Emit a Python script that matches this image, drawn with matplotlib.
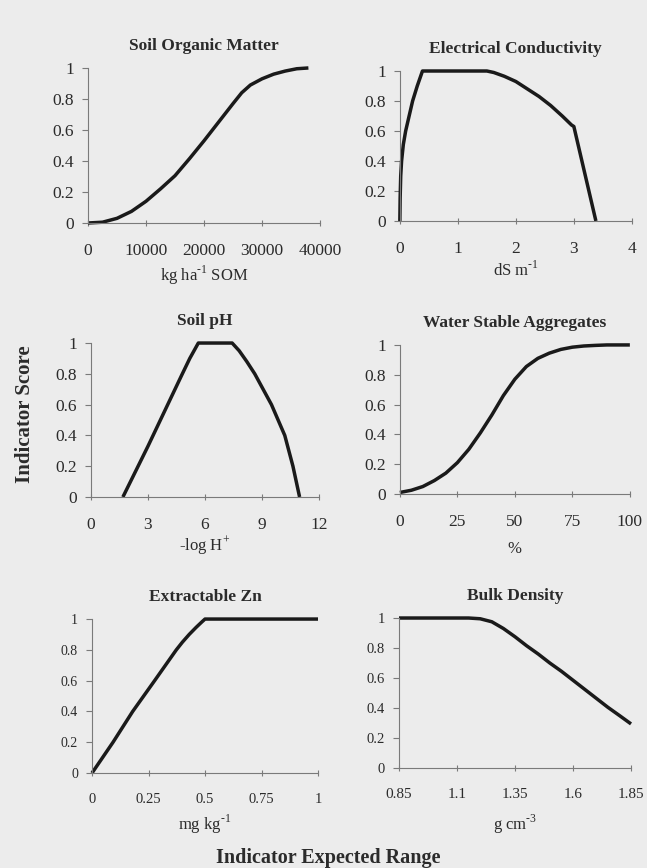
import matplotlib
matplotlib.use("Agg")
from matplotlib import pyplot as plt

plt.rcParams['font.family'] = ['Liberation Serif', 'DejaVu Serif']

# values
som_x = [0, 2500, 5000, 7500, 10000, 12500, 15000, 17500, 20000, 22500,
         25000, 26500, 28000, 30000, 32000, 34000, 36000, 38000]
som_y = [0, 0.005, 0.03, 0.075, 0.14, 0.22, 0.305, 0.415, 0.53, 0.65,
         0.77, 0.84, 0.89, 0.93, 0.96, 0.98, 0.995, 1.0]

ec_x = [0, 0.005, 0.015, 0.03, 0.06, 0.1, 0.16, 0.22, 0.3, 0.39, 1.5, 1.62,
        1.8, 2.0, 2.2, 2.4, 2.6, 2.8, 2.96, 3.0, 3.38]
ec_y = [0, 0.15, 0.3, 0.4, 0.51, 0.6, 0.7, 0.8, 0.9, 1.0, 1.0, 0.99,
        0.965, 0.93, 0.88, 0.83, 0.77, 0.7, 0.64, 0.63, 0]

ph_x = [1.68, 3.0, 4.0, 4.77, 5.2, 5.65, 7.43, 7.8, 8.2, 8.62, 9.06, 9.5,
        9.85, 10.2, 10.63, 10.98]
ph_y = [0, 0.33, 0.59, 0.79, 0.9, 1.0, 1.0, 0.95, 0.88, 0.8, 0.7, 0.6,
        0.5, 0.4, 0.2, 0]

wsa_x = [0, 5, 10, 15, 20, 25, 30, 35, 40, 45, 50, 55, 60, 65, 70, 75,
         80, 85, 90, 100]
wsa_y = [0.01, 0.025, 0.05, 0.09, 0.14, 0.21, 0.30, 0.41, 0.53, 0.66, 0.77, 0.855,
         0.91, 0.945, 0.97, 0.985, 0.993, 0.997, 1.0, 1.0]

zn_x = [0, 0.093, 0.18, 0.277, 0.373, 0.4, 0.43, 0.46, 0.485, 0.5, 1.0]
zn_y = [0, 0.2, 0.4, 0.6, 0.8, 0.85, 0.9, 0.945, 0.98, 1.0, 1.0]

bd_x = [0.85, 1.0, 1.15, 1.2, 1.25, 1.3, 1.35, 1.4, 1.45, 1.5, 1.55, 1.6,
        1.65, 1.7, 1.75, 1.8, 1.85]
bd_y = [1, 1, 1, 0.995, 0.975, 0.93, 0.875, 0.815, 0.76, 0.70, 0.645, 0.585,
        0.525, 0.465, 0.405, 0.35, 0.294]

y_ticks = [0, 0.2, 0.4, 0.6, 0.8, 1]
y_labels = ['0', '0.2', '0.4', '0.6', '0.8', '1']

hy = '\u2010'
panels = [
    # title, xs, ys, xlim, xticks, xticklabels, xlabel, rect, xsize, ysize, labelpad
    ("Soil Organic Matter", som_x, som_y, (0, 40000),
     [0, 10000, 20000, 30000, 40000], ['0', '10000', '20000', '30000', '40000'],
     "kg ha$^{\\mathregular{" + hy + "1}}$ SOM", [0.136, 0.7431, 0.3586, 0.1786], 12.5, 12.5, 3),
    ("Electrical Conductivity", ec_x, ec_y, (0, 4),
     [0, 1, 2, 3, 4], ['0', '1', '2', '3', '4'],
     "dS m$^{\\mathregular{" + hy + "1}}$", [0.618, 0.7454, 0.3586, 0.1728], 12.5, 12.5, 2),
    ("Soil pH", ph_x, ph_y, (0, 12),
     [0, 3, 6, 9, 12], ['0', '3', '6', '9', '12'],
     "-log H$^{\\mathregular{+}}$", [0.1406, 0.4274, 0.3524, 0.1774], 12.5, 12.5, 1),
    ("Water Stable Aggregates", wsa_x, wsa_y, (0, 100),
     [0, 25, 50, 75, 100], ['0', '25', '50', '75', '100'],
     "%", [0.618, 0.4309, 0.3555, 0.1717], 12.5, 12.5, 8),
    ("Extractable Zn", zn_x, zn_y, (0, 1),
     [0, 0.25, 0.5, 0.75, 1], ['0', '0.25', '0.5', '0.75', '1'],
     "mg kg$^{\\mathregular{" + hy + "1}}$", [0.1422, 0.1094, 0.3493, 0.1774], 10.5, 10, 5),
    ("Bulk Density", bd_x, bd_y, (0.85, 1.85),
     [0.85, 1.1, 1.35, 1.6, 1.85], ['0.85', '1.1', '1.35', '1.6', '1.85'],
     "g cm$^{\\mathregular{" + hy + "3}}$", [0.6167, 0.1152, 0.3586, 0.1728], 11, 10.5, 8),
]

text_col = '#2b2b2b'
axis_col = '#7a7a7a'

fig = plt.figure(figsize=(6.47, 8.68), dpi=100)
fig.patch.set_facecolor('#ececec')

for title, xs, ys, xlim, xt, xtl, xlab, rect, xsize, ysize, lp in panels:
    ax = fig.add_axes(rect)
    ax.set_facecolor('none')
    ax.plot(xs, ys, color='#1a1a1a', lw=2.5, clip_on=False,
            solid_capstyle='butt', solid_joinstyle='round')
    ax.set_xlim(*xlim)
    ax.set_ylim(0, 1)
    ax.set_xticks(xt)
    ax.set_xticklabels(xtl)
    ax.set_yticks(y_ticks)
    ax.set_yticklabels(y_labels)
    for s in ['top', 'right']:
        ax.spines[s].set_visible(False)
    for s in ['left', 'bottom']:
        ax.spines[s].set_color(axis_col)
        ax.spines[s].set_linewidth(0.8)
    ax.tick_params(axis='x', direction='inout', length=5, width=0.8, color=axis_col,
                   labelsize=xsize, labelcolor=text_col, pad=12)
    ax.tick_params(axis='y', direction='out', length=4, width=0.8, color=axis_col,
                   labelsize=ysize, labelcolor=text_col, pad=6)
    ax.set_title(title, fontsize=12.5, fontweight='bold', color=text_col, pad=13)
    ax.set_xlabel(xlab, fontsize=12, color=text_col, labelpad=lp)

fig.text(0.039, 0.523, "Indicator Score", rotation=90, ha='center', va='center',
         fontsize=15, fontweight='bold', color=text_col)
fig.text(0.508, 0.012, "Indicator Expected Range", ha='center', va='center',
         fontsize=14.5, fontweight='bold', color=text_col)

fig.savefig("out.png", dpi=100, facecolor=fig.get_facecolor())
